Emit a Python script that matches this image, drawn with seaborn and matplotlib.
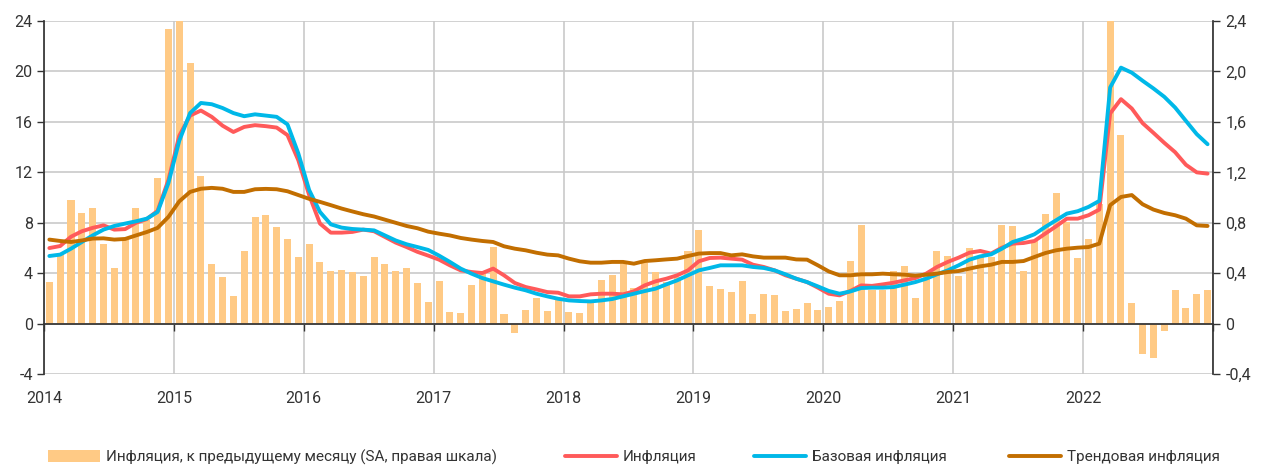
import numpy as np
import pandas as pd
import seaborn as sns
import matplotlib.pyplot as plt

years = list(range(2014, 2023))

# инфляция м/м, SA, правая шкала (%)
mom_sa = [0.33, 0.55, 0.98, 0.88, 0.915, 0.635, 0.445, 0.66, 0.92, 0.82, 1.155, 2.34,
          2.6, 2.07, 1.175, 0.47, 0.368, 0.22, 0.58, 0.845, 0.86, 0.77, 0.67, 0.53,
          0.635, 0.49, 0.42, 0.425, 0.41, 0.375, 0.53, 0.47, 0.415, 0.445, 0.325, 0.17,
          0.34, 0.09, 0.085, 0.31, 0.40, 0.61, 0.08, -0.074, 0.106, 0.204, 0.098, 0.19,
          0.09, 0.085, 0.17, 0.344, 0.384, 0.476, 0.286, 0.48, 0.41, 0.33, 0.37, 0.574,
          0.746, 0.296, 0.272, 0.25, 0.336, 0.077, 0.238, 0.225, 0.1, 0.119, 0.164, 0.111,
          0.13, 0.177, 0.497, 0.78, 0.265, 0.265, 0.42, 0.46, 0.207, 0.38, 0.58, 0.54,
          0.376, 0.6, 0.53, 0.53, 0.78, 0.775, 0.418, 0.66, 0.866, 1.037, 0.807, 0.52,
          0.672, 0.95, 2.6, 1.5, 0.164, -0.238, -0.272, -0.06, 0.265, 0.124, 0.238, 0.27]

# инфляция г/г (%)
cpi = [6.0, 6.16, 6.9, 7.33, 7.6, 7.8, 7.46, 7.5, 8.0, 8.3, 8.95, 11.4,
       14.9, 16.5, 16.9, 16.4, 15.7, 15.2, 15.6, 15.74, 15.66, 15.55, 14.95, 12.96,
       10.2, 7.94, 7.22, 7.22, 7.28, 7.46, 7.33, 6.88, 6.43, 6.08, 5.7, 5.4,
       5.08, 4.63, 4.23, 4.1, 4.02, 4.37, 3.84, 3.23, 2.91, 2.72, 2.51, 2.46,
       2.17, 2.17, 2.33, 2.38, 2.38, 2.33, 2.57, 3.04, 3.36, 3.57, 3.84, 4.23,
       4.95, 5.21, 5.24, 5.16, 5.08, 4.68, 4.5, 4.23, 3.84, 3.57, 3.3, 2.86,
       2.38, 2.25, 2.6, 3.04, 3.0, 3.12, 3.25, 3.44, 3.62, 3.97, 4.5, 4.9,
       5.24, 5.63, 5.77, 5.56, 6.03, 6.35, 6.4, 6.56, 7.14, 7.72, 8.33, 8.33,
       8.6, 9.05, 16.67, 17.8, 17.06, 15.9, 15.13, 14.34, 13.6, 12.6, 12.0, 11.9]

# базовая инфляция г/г (%)
core = [5.37, 5.48, 5.95, 6.48, 7.0, 7.46, 7.75, 7.94, 8.12, 8.33, 8.86, 11.16,
        14.5, 16.7, 17.5, 17.4, 17.1, 16.7, 16.45, 16.6, 16.5, 16.4, 15.8, 13.5,
        10.6, 8.86, 7.88, 7.62, 7.51, 7.46, 7.4, 7.0, 6.6, 6.3, 6.08, 5.85,
        5.4, 4.9, 4.37, 3.97, 3.62, 3.36, 3.1, 2.86, 2.65, 2.38, 2.17, 1.98,
        1.85, 1.8, 1.77, 1.85, 1.96, 2.17, 2.38, 2.59, 2.78, 3.12, 3.44, 3.84,
        4.23, 4.42, 4.63, 4.63, 4.63, 4.5, 4.42, 4.23, 3.92, 3.57, 3.3, 2.96,
        2.6, 2.38, 2.56, 2.83, 2.86, 2.86, 2.91, 3.1, 3.3, 3.57, 3.92, 4.23,
        4.63, 5.08, 5.34, 5.5, 5.95, 6.48, 6.75, 7.09, 7.67, 8.2, 8.73, 8.92,
        9.26, 9.74, 18.73, 20.3, 19.9, 19.26, 18.65, 17.99, 17.14, 16.08, 15.03, 14.23]

# трендовая инфляция (%)
trend = [6.67, 6.56, 6.48, 6.6, 6.75, 6.77, 6.67, 6.72, 7.0, 7.27, 7.6, 8.47,
         9.7, 10.45, 10.7, 10.77, 10.7, 10.45, 10.45, 10.66, 10.69, 10.66, 10.5, 10.2,
         9.9, 9.66, 9.4, 9.13, 8.9, 8.68, 8.5, 8.25, 8.0, 7.75, 7.57, 7.3,
         7.14, 7.0, 6.8, 6.67, 6.56, 6.48, 6.14, 5.95, 5.82, 5.63, 5.48, 5.42,
         5.16, 4.95, 4.84, 4.84, 4.9, 4.9, 4.76, 4.97, 5.03, 5.1, 5.16, 5.37,
         5.56, 5.6, 5.6, 5.42, 5.5, 5.34, 5.24, 5.24, 5.24, 5.1, 5.08, 4.63,
         4.15, 3.84, 3.84, 3.92, 3.92, 3.97, 3.92, 3.89, 3.81, 3.89, 3.97, 4.1,
         4.18, 4.37, 4.55, 4.68, 4.9, 4.9, 4.97, 5.29, 5.6, 5.82, 5.95, 6.03,
         6.08, 6.35, 9.4, 10.05, 10.2, 9.47, 9.05, 8.78, 8.6, 8.33, 7.8, 7.75]

left_ticks = [-4, 0, 4, 8, 12, 16, 20, 24]
right_ticks = [-0.4, 0, 0.4, 0.8, 1.2, 1.6, 2.0, 2.4]
right_labels = ['-0,4', '0', '0,4', '0,8', '1,2', '1,6', '2,0', '2,4']

labels = ['Инфляция, к предыдущему месяцу (SA, правая шкала)', 'Инфляция',
          'Базовая инфляция', 'Трендовая инфляция']

# середина каждого месяца в долях года
t = [y + (m + 0.5) / 12 for y in years for m in range(12)]

sns.set_theme(style='white')
plt.rcParams['font.family'] = ['Roboto', 'DejaVu Sans']
txt = '#333333'
grid_c = '#C9C9C9'

fig = plt.figure(figsize=(12.63, 4.66), dpi=100)
ax = fig.add_axes([0.0348, 0.197, 0.9256, 0.758])
ax2 = ax.twinx()
ax.set_zorder(2)
ax2.set_zorder(1)
ax.patch.set_visible(False)
ax2.xaxis.set_visible(True)

sns.barplot(x=t, y=mom_sa, native_scale=True, color='#FFCA85', saturation=1,
            width=0.65, errorbar=None, linewidth=0, ax=ax2, label=labels[0])

for vals, col, lab in [(cpi, '#FF5A5A', labels[1]), (core, '#00B8E8', labels[2]),
                       (trend, '#C26E00', labels[3])]:
    sns.lineplot(x=t, y=vals, color=col, linewidth=2.8, ax=ax, label=lab)
if ax.get_legend():
    ax.get_legend().remove()
if ax2.get_legend():
    ax2.get_legend().remove()

ax.set_xlim(2014, 2023)
ax.set_ylim(-4, 24)
ax2.set_ylim(-0.4, 2.4)

ax.set_xticks(range(2014, 2024), labels=[str(y) for y in years] + [''])
ax.set_yticks(left_ticks, labels=[str(v) for v in left_ticks])
ax2.set_yticks(right_ticks, labels=right_labels)

ax.tick_params(axis='x', length=0, pad=12, labelsize=11.5, labelcolor=txt)
ax.tick_params(axis='y', left=True, length=5, width=1, color=txt, pad=3,
               labelsize=11.5, labelcolor=txt)
ax2.tick_params(axis='x', bottom=True, labelbottom=False, length=5, width=1, color=txt)
ax2.tick_params(axis='y', right=True, length=5, width=1, color=txt, pad=4,
                labelsize=11.5, labelcolor=txt)
ax.set_xlabel('')
ax.set_ylabel('')
ax2.set_ylabel('')

for s in ['top', 'right', 'bottom']:
    ax.spines[s].set_visible(False)
ax.spines['left'].set_color(txt)
ax2.spines['left'].set_visible(False)
ax2.spines['top'].set_visible(False)
ax2.spines['right'].set_color(txt)
ax2.spines['bottom'].set_position(('data', 0))
ax2.spines['bottom'].set_color(txt)

ax2.set_axisbelow(True)
ax2.grid(True, axis='both', color=grid_c, linewidth=1.2)
ax.grid(False)

# легенда: четыре отдельных элемента в строку внизу
h1, l1 = ax2.get_legend_handles_labels()
h2, l2 = ax.get_legend_handles_labels()
handles = h1[:1] + h2
starts = [48, 565, 754, 1009]
for h, lab, x0 in zip(handles, labels, starts):
    fig.legend([h], [lab], loc='center left', bbox_to_anchor=(x0 / 1263, 9 / 466),
               frameon=False, fontsize=11, handlelength=3.4, handleheight=0.9,
               handletextpad=0.4, borderpad=0, borderaxespad=0, labelcolor=txt)

fig.savefig('out.png', dpi=100, facecolor='white')
